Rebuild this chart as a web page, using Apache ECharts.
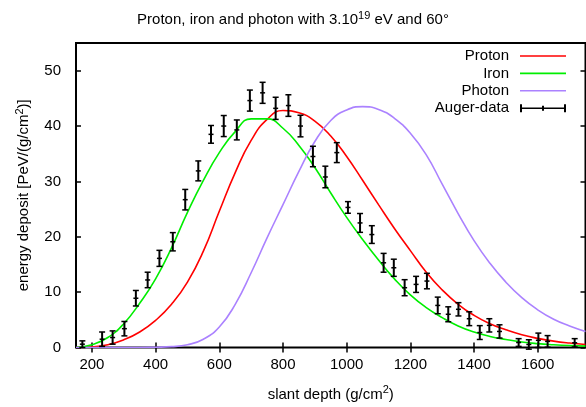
<!DOCTYPE html>
<html>
<head>
<meta charset="utf-8">
<script src="https://cdn.jsdelivr.net/npm/echarts@6/dist/echarts.min.js"></script>
<style>
  html, body { margin: 0; padding: 0; background: #fff; }
  #chart { width: 586px; height: 407px; }
</style>
</head>
<body>
<div id="chart"></div>
<script>
// Simulated longitudinal profiles, sampled every 50 g/cm2
const depth  = [150, 200, 250, 300, 350, 400, 450, 500, 550, 600, 650, 700, 750, 800, 850, 900, 950,
                1000, 1050, 1100, 1150, 1200, 1250, 1300, 1350, 1400, 1450, 1500, 1550, 1600, 1650, 1700, 1750];
const proton = [0.0, 0.1, 0.5, 1.4, 2.8, 4.9, 7.8, 11.8, 17.4, 24.6, 31.6, 37.4, 41.2, 42.8, 42.4, 40.9, 38.2,
                34.5, 30.2, 25.8, 21.5, 17.5, 13.6, 10.4, 7.8, 5.8, 4.3, 3.2, 2.3, 1.65, 1.15, 0.8, 0.55];
const iron   = [0.0, 0.5, 1.8, 4.3, 8.0, 12.4, 18.0, 24.4, 30.2, 35.2, 39.0, 41.3, 41.3, 39.6, 36.5, 32.5, 27.9,
                23.5, 19.5, 15.8, 12.4, 9.5, 7.2, 5.4, 3.9, 2.8, 2.0, 1.45, 1.0, 0.7, 0.5, 0.35, 0.25];
const photon = [0.0, 0.0, 0.0, 0.0, 0.0, 0.05, 0.15, 0.5, 1.5, 3.7, 7.8, 13.5, 19.8, 25.8, 31.8, 37.2, 41.0,
                42.9, 43.5, 43.0, 41.4, 38.7, 34.8, 29.5, 24.2, 19.3, 15.2, 11.8, 9.0, 6.8, 5.1, 3.9, 2.9];

// Measured profile with its uncertainties
const augerDepth   = [170, 232, 265, 302, 338, 375, 412, 454, 493, 534, 574, 614, 655, 696, 736, 777, 817, 855,
                      894, 933, 969, 1004, 1042, 1079, 1116, 1148, 1182, 1218, 1252, 1286, 1319, 1351, 1385,
                      1418, 1448, 1480, 1540, 1572, 1602, 1631, 1716];
const augerDeposit = [0.6, 1.5, 1.8, 3.4, 8.9, 12.2, 16.1, 19.1, 26.7, 31.9, 38.5, 40.0, 39.3, 44.6, 46.0, 43.2,
                      43.7, 40.0, 34.5, 30.8, 35.2, 25.3, 22.5, 20.4, 15.3, 14.4, 10.8, 11.4, 12.0, 7.6, 6.0,
                      6.9, 5.2, 2.7, 4.0, 2.9, 0.9, 0.55, 1.3, 1.1, 0.85];
const augerError   = [0.6, 1.3, 1.2, 1.3, 1.4, 1.4, 1.45, 1.65, 1.85, 1.8, 1.6, 1.9, 1.8, 1.9, 1.9, 2.0,
                      1.95, 1.95, 1.85, 1.95, 1.8, 1.05, 1.7, 1.6, 1.7, 1.55, 1.45, 1.45, 1.4, 1.5, 1.35,
                      1.2, 1.25, 1.25, 1.2, 1.2, 0.7, 0.85, 1.3, 1.05, 0.75];

const xTicks = [200, 400, 600, 800, 1000, 1200, 1400, 1600];
const yTicks = [0, 10, 20, 30, 40, 50];

const FONT = 'Liberation Sans';
const pair = (xs, ys) => xs.map((x, i) => [x, ys[i]]);
const plain = v => String(v);

const chart = echarts.init(document.getElementById('chart'), null, { renderer: 'canvas' });

const tickStyle = { show: true, inside: true, length: 5, lineStyle: { color: '#000', width: 1.5 } };

const lineIcon = 'path://M0,6.2 L46,6.2 L46,7.8 L0,7.8 Z';
const errIcon = 'path://M0,3 L2,3 L2,6.2 L22,6.2 L22,4.5 L24,4.5 L24,6.2 L44,6.2 L44,3 L46,3 L46,11 L44,11 L44,7.8 L24,7.8 L24,9.5 L22,9.5 L22,7.8 L2,7.8 L2,11 L0,11 Z';

function curve(name, ys, color) {
  return {
    name, type: 'line', data: pair(depth, ys), smooth: 0.5,
    showSymbol: false, symbol: 'none', color,
    lineStyle: { color, width: 1.6 }, z: 2, animation: false
  };
}

const supRich = size => ({ sup: { fontFamily: FONT, fontSize: size, color: '#000', padding: [0, 0, 9, 0] } });

chart.setOption({
  animation: false,
  backgroundColor: '#fff',
  textStyle: { fontFamily: FONT },
  title: {
    text: 'Proton, iron and photon with 3.10{sup|19} eV and 60°',
    left: 'center', top: 5,
    textStyle: { fontFamily: FONT, fontSize: 15, fontWeight: 'normal', color: '#000', rich: supRich(11) }
  },
  grid: { left: 76, right: 0.5, top: 43, bottom: 58.5, show: true, borderColor: '#000', borderWidth: 2, backgroundColor: 'transparent' },
  legend: {
    orient: 'vertical', right: 15, top: 43.5, align: 'right',
    itemWidth: 46, itemHeight: 14, itemGap: 2.4,
    textStyle: { fontFamily: FONT, fontSize: 15, color: '#000', padding: [0, 6, 0, 0] },
    selectedMode: false,
    data: [
      { name: 'Proton', icon: lineIcon },
      { name: 'Iron', icon: lineIcon },
      { name: 'Photon', icon: lineIcon },
      { name: 'Auger-data', icon: errIcon, itemStyle: { color: '#000' } }
    ]
  },
  xAxis: [
    {
      type: 'value', min: 150, max: 1750, position: 'bottom',
      axisLine: { show: false }, splitLine: { show: false },
      axisTick: Object.assign({ customValues: xTicks }, tickStyle),
      axisLabel: { customValues: xTicks, formatter: plain, margin: 10, fontFamily: FONT, fontSize: 15, color: '#000' },
      name: 'slant depth (g/cm{sup|2})', nameLocation: 'middle', nameGap: 37,
      nameTextStyle: { fontFamily: FONT, fontSize: 15, color: '#000', rich: supRich(11) }
    },
    {
      type: 'value', min: 150, max: 1750, position: 'top',
      axisLine: { show: false }, splitLine: { show: false },
      axisTick: Object.assign({ customValues: xTicks }, tickStyle),
      axisLabel: { show: false }
    }
  ],
  yAxis: [
    {
      type: 'value', min: 0, max: 55, position: 'left',
      axisLine: { show: false }, splitLine: { show: false },
      axisTick: Object.assign({ customValues: yTicks }, tickStyle),
      axisLabel: { customValues: yTicks, formatter: plain, margin: 15, fontFamily: FONT, fontSize: 15, color: '#000' },
      name: 'energy deposit [PeV/(g/cm{sup|2})]', nameLocation: 'middle', nameGap: 42, nameRotate: 90,
      nameTextStyle: { fontFamily: FONT, fontSize: 15, color: '#000', rich: supRich(11) }
    },
    {
      type: 'value', min: 0, max: 55, position: 'right',
      axisLine: { show: false }, splitLine: { show: false },
      axisTick: Object.assign({ customValues: yTicks }, tickStyle),
      axisLabel: { show: false }
    }
  ],
  series: [
    curve('Proton', proton, '#ff0000'),
    curve('Iron', iron, '#00ee00'),
    curve('Photon', photon, '#ab82ff'),
    {
      name: 'Auger-data', type: 'custom', color: '#000', clip: false, z: 5,
      data: augerDepth.map((x, i) => [x, augerDeposit[i], augerError[i]]),
      renderItem(params, api) {
        const x = api.value(0), y = api.value(1), e = api.value(2);
        const c = api.coord([x, y]);
        const hi = api.coord([x, y + e]);
        const lo = api.coord([x, y - e]);
        const style = { stroke: '#000', lineWidth: 2, fill: null };
        const thin = { stroke: '#000', lineWidth: 1.5, fill: null };
        return {
          type: 'group',
          children: [
            { type: 'line', shape: { x1: c[0], y1: hi[1], x2: c[0], y2: lo[1] }, style },
            { type: 'line', shape: { x1: c[0] - 3, y1: hi[1], x2: c[0] + 3, y2: hi[1] }, style: thin },
            { type: 'line', shape: { x1: c[0] - 3, y1: lo[1], x2: c[0] + 3, y2: lo[1] }, style: thin },
            { type: 'line', shape: { x1: c[0] - 2.5, y1: c[1], x2: c[0] + 2.5, y2: c[1] }, style: thin }
          ]
        };
      }
    }
  ]
});
</script>
</body>
</html>
